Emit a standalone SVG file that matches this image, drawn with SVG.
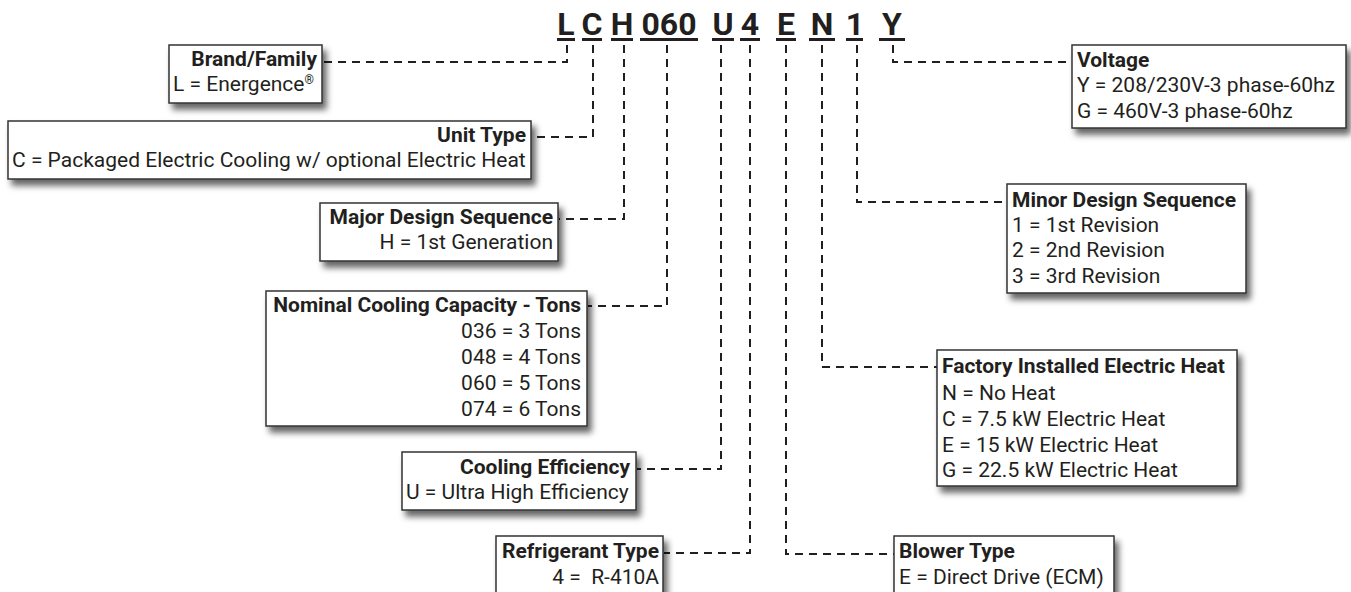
<svg xmlns="http://www.w3.org/2000/svg" width="1351" height="592" viewBox="0 0 1351 592">
<defs>
<filter id="sh" x="-10%" y="-20%" width="130%" height="160%">
<feDropShadow dx="4" dy="6" stdDeviation="3" flood-color="#000" flood-opacity="0.6"/>
</filter>
<style>
.code{font-family:Roboto,"Liberation Sans",sans-serif;font-weight:700;font-size:32px;fill:#231f20;text-anchor:middle}
.ul{fill:#231f20}
.box{fill:#fff;stroke:#333;stroke-width:1.5;filter:url(#sh)}
.t{font-family:Roboto,"Liberation Sans",sans-serif;font-size:21px;fill:#231f20}
.b{font-weight:700}
.r{text-anchor:end}
.con{fill:none;stroke:#231f20;stroke-width:2;stroke-dasharray:8 6}
</style>
</defs>
<rect width="1351" height="592" fill="#fff"/>
<g id="code">
<text class="code" x="566" y="35">L</text>
<text class="code" x="592" y="35">C</text>
<text class="code" x="622" y="35">H</text>
<text class="code" x="669" y="35">060</text>
<text class="code" x="723" y="35">U</text>
<text class="code" x="750" y="35">4</text>
<text class="code" x="786" y="35">E</text>
<text class="code" x="822" y="35">N</text>
<text class="code" x="855" y="35">1</text>
<text class="code" x="892" y="35">Y</text>
<rect class="ul" x="557" y="38" width="18" height="3"/>
<rect class="ul" x="582" y="38" width="20" height="3"/>
<rect class="ul" x="611" y="38" width="22" height="3"/>
<rect class="ul" x="640" y="38" width="58" height="3"/>
<rect class="ul" x="712" y="38" width="22" height="3"/>
<rect class="ul" x="740" y="38" width="20" height="3"/>
<rect class="ul" x="776" y="38" width="20" height="3"/>
<rect class="ul" x="809" y="38" width="26" height="3"/>
<rect class="ul" x="846" y="38" width="17" height="3"/>
<rect class="ul" x="879" y="38" width="26" height="3"/>
</g>
<g id="connectors">
<path class="con" d="M567,45 V62 H323"/>
<path class="con" d="M593,45 V137 H532"/>
<path class="con" d="M624,45 V219 H559"/>
<path class="con" d="M667,45 V306 H588"/>
<path class="con" d="M721,45 V469 H637"/>
<path class="con" d="M750,45 V553 H664"/>
<path class="con" d="M786,45 V554 H894"/>
<path class="con" d="M822,45 V367 H937"/>
<path class="con" d="M857,45 V202 H1007"/>
<path class="con" d="M893,45 V62 H1072"/>
</g>
<g id="brand">
<rect class="box" x="169" y="45" width="153" height="58"/>
<text class="t b r" x="317" y="66">Brand/Family</text>
<text class="t" x="173" y="91">L = Energence<tspan font-size="12" dy="-7">®</tspan></text>
</g>
<g id="unit-type">
<rect class="box" x="8" y="121" width="523" height="58"/>
<text class="t b r" x="526" y="142">Unit Type</text>
<text class="t" x="12" y="167">C = Packaged Electric Cooling w/ optional Electric Heat</text>
</g>
<g id="major">
<rect class="box" x="320" y="203" width="238" height="58"/>
<text class="t b r" x="553" y="224">Major Design Sequence</text>
<text class="t r" x="553" y="249">H = 1st Generation</text>
</g>
<g id="nominal">
<rect class="box" x="266" y="291" width="321" height="135"/>
<text class="t b r" x="581" y="312">Nominal Cooling Capacity - Tons</text>
<text class="t r" x="581" y="338">036 = 3 Tons</text>
<text class="t r" x="581" y="364">048 = 4 Tons</text>
<text class="t r" x="581" y="390">060 = 5 Tons</text>
<text class="t r" x="581" y="416">074 = 6 Tons</text>
</g>
<g id="efficiency">
<rect class="box" x="402" y="452" width="234" height="58"/>
<text class="t b r" x="630" y="474">Cooling Efficiency</text>
<text class="t" x="406" y="499">U = Ultra High Efficiency</text>
</g>
<g id="refrigerant">
<rect class="box" x="496" y="536" width="167" height="62"/>
<text class="t b r" x="659" y="558">Refrigerant Type</text>
<text class="t r" x="659" y="584" xml:space="preserve">4 =  R-410A</text>
</g>
<g id="voltage">
<rect class="box" x="1072" y="45" width="274" height="83"/>
<text class="t b" x="1077" y="67">Voltage</text>
<text class="t" x="1077" y="92">Y = 208/230V-3 phase-60hz</text>
<text class="t" x="1077" y="118">G = 460V-3 phase-60hz</text>
</g>
<g id="minor">
<rect class="box" x="1007" y="184" width="239" height="109"/>
<text class="t b" x="1012" y="207">Minor Design Sequence</text>
<text class="t" x="1012" y="232">1 = 1st Revision</text>
<text class="t" x="1012" y="257">2 = 2nd Revision</text>
<text class="t" x="1012" y="283">3 = 3rd Revision</text>
</g>
<g id="factory">
<rect class="box" x="937" y="350" width="300" height="136"/>
<text class="t b" x="942" y="373">Factory Installed Electric Heat</text>
<text class="t" x="942" y="400">N = No Heat</text>
<text class="t" x="942" y="426">C = 7.5 kW Electric Heat</text>
<text class="t" x="942" y="452">E = 15 kW Electric Heat</text>
<text class="t" x="942" y="477">G = 22.5 kW Electric Heat</text>
</g>
<g id="blower">
<rect class="box" x="894" y="536" width="220" height="62"/>
<text class="t b" x="899" y="558">Blower Type</text>
<text class="t" x="899" y="584">E = Direct Drive (ECM)</text>
</g>
</svg>
